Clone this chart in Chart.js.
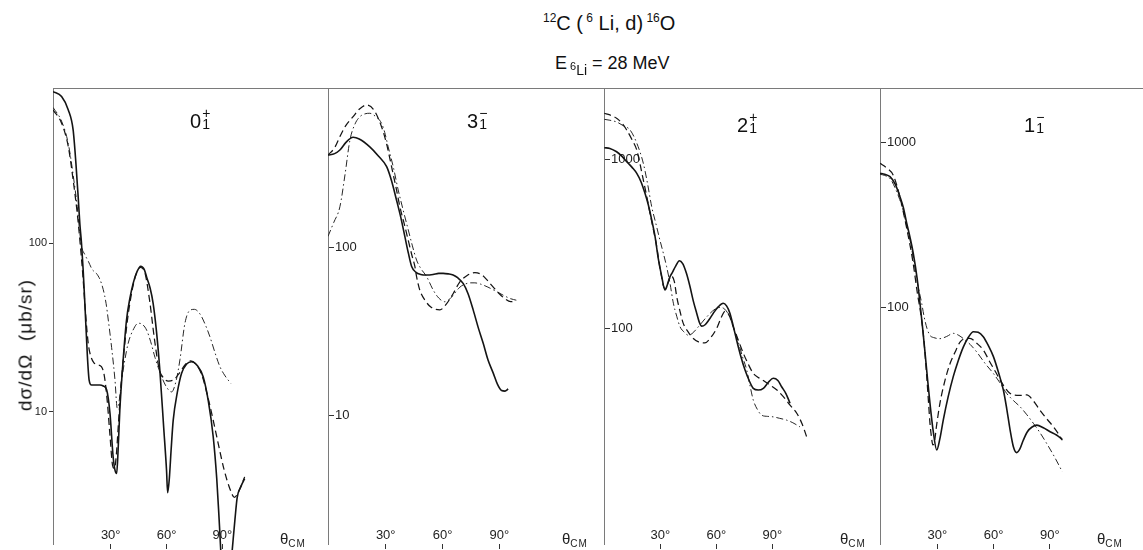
<!DOCTYPE html>
<html><head><meta charset="utf-8">
<script src="https://cdn.jsdelivr.net/npm/chart.js@4.4.0/dist/chart.umd.min.js"></script>
<style>
html,body{margin:0;padding:0;background:#fff;}
#wrap{position:relative;width:1143px;height:550px;overflow:hidden;font-family:"Liberation Sans",Arial,sans-serif;color:#111;}
canvas{position:absolute;top:80px;}
.t{position:absolute;white-space:nowrap;line-height:1;}
.lab{position:absolute;white-space:nowrap;font-size:20px;line-height:20px;}
.stk{display:inline-block;vertical-align:top;font-size:14px;line-height:11px;text-align:center;margin-left:1px;margin-top:-3px;}
.stk span{display:block;}
.th{position:absolute;top:530px;font-size:15px;white-space:nowrap;color:#222;}
.th sub{font-size:10px;vertical-align:-3px;letter-spacing:1px;}
</style></head>
<body><div id="wrap">
<canvas id="c1" width="328" height="470" style="left:0px;width:328px;height:470px"></canvas>
<canvas id="c2" width="278" height="470" style="left:326px;width:278px;height:470px"></canvas>
<canvas id="c3" width="278" height="470" style="left:602px;width:278px;height:470px"></canvas>
<canvas id="c4" width="265" height="470" style="left:878px;width:265px;height:470px"></canvas>

<div class="t" style="left:543px;top:12px;font-size:20px"><sup style="font-size:12px">12</sup>C (<sup style="font-size:12px"> 6</sup> Li, d)<sup style="font-size:12px"> 16</sup>O</div>
<div class="t" style="left:555px;top:54px;font-size:18px">E<span style="display:inline-block;position:relative;top:6px;font-size:14px;margin-left:3px"><span style="font-size:11px;position:relative;top:-5px">6</span>Li</span> = 28 MeV</div>

<div class="lab" style="left:190px;top:111px">0<span class="stk"><span>+</span><span>1</span></span></div>
<div class="lab" style="left:467px;top:111px">3<span class="stk"><span>&#8722;</span><span>1</span></span></div>
<div class="lab" style="left:737px;top:115px">2<span class="stk"><span>+</span><span>1</span></span></div>
<div class="lab" style="left:1024px;top:115px">1<span class="stk"><span>&#8722;</span><span>1</span></span></div>

<div class="t" style="left:25px;top:345px;font-size:19px;letter-spacing:1px;transform:translate(-50%,-50%) rotate(-90deg);">d&#963;/d&#937;&nbsp;&nbsp;(&#956;b/sr)</div>

<div class="th" style="left:280px">&#952;<sub>CM</sub></div>
<div class="th" style="left:562px">&#952;<sub>CM</sub></div>
<div class="th" style="left:840px">&#952;<sub>CM</sub></div>
<div class="th" style="left:1097px">&#952;<sub>CM</sub></div>
</div>
<script>
// ---------- tick values ----------
const xTickValues = [30, 60, 90];
const p1YTicks = [10, 100];
const p2YTicks = [10, 100];
const p3YTicks = [100, 1000];
const p4YTicks = [100, 1000];

// ---------- panel 1 : 0+1 ----------
const p1SolidTheta = [-1, 3.6, 7.2, 9.8, 11.3, 12.5, 13.4, 14.3, 15.2, 16.1, 17.4, 18.4, 19.7, 22, 24.2, 26, 27.8, 29.6, 31.3, 32.3, 33.2, 34, 34.9, 36.5, 38.5, 40.3, 42.1, 44.2, 46.1, 48, 49.5, 51.2, 52.8, 54.6, 56.4, 58.5, 60, 60.6, 61.5, 62.5, 63.6, 65.8, 68.1, 70.8, 73.5, 76.5, 79.7, 82.5, 85.1, 87, 88.3, 89.5, 91.5, 93.5, 95.3, 96.8, 98, 100, 102];
const p1SolidValue = [795, 743, 619, 471, 298, 189, 131, 100, 69, 44, 22, 15.4, 14.4, 14.4, 14.4, 14.2, 13.5, 9.8, 5.4, 4.5, 4.3, 6, 10.2, 19, 35, 47, 58, 68, 73, 70, 62, 54, 44, 30, 17.7, 8, 4.5, 3.3, 4.0, 6, 8.9, 13, 16.9, 19.2, 19.8, 18.8, 16.1, 11.5, 7.1, 4.0, 2.27, 1.3, 0.8, 0.9, 1.5, 2.3, 3.1, 3.6, 4.0];
const p1DashTheta = [-1, 3.6, 7.2, 9.8, 12, 13.4, 15, 16.5, 18, 19.5, 21, 23, 25, 26.5, 28, 29.5, 31, 32, 33, 34, 35.5, 37.5, 40, 43, 46, 48.5, 51, 53.5, 56, 58.5, 61, 64, 67, 70, 73, 76, 79, 82, 85, 88, 91, 94, 96.5, 99, 102];
const p1DashValue = [619, 516, 375, 238, 151, 105, 65, 38, 25, 21, 19.5, 19, 18.5, 16.5, 12, 7.5, 4.8, 4.6, 5.5, 8, 14, 25, 42, 62, 72, 66, 45, 27, 18, 15.8, 15.2, 15.5, 17, 19, 20, 19, 16.5, 12.5, 9, 6.3, 4.5, 3.5, 3.1, 3.4, 4.1];
const p1DotTheta = [-1, 3.6, 7.2, 9.8, 12, 13.4, 14.3, 16, 18, 20, 22.4, 24.2, 26, 27.5, 28.7, 30.5, 32.3, 33.5, 34.5, 35.9, 37.5, 39.4, 42, 44.8, 47, 49.3, 51.5, 53.8, 57.4, 60, 62.7, 65, 67.2, 69.9, 72.6, 75, 78, 80.5, 83.3, 86, 88.7, 91.5, 94.6];
const p1DotValue = [640, 530, 390, 255, 165, 115, 96, 86, 78, 70, 66, 61, 53, 44, 35, 24, 15.4, 10.5, 11.5, 15.4, 20, 25.5, 30.5, 33.5, 33, 30.5, 26, 21, 16.1, 14, 13.1, 15, 20.3, 33.5, 40, 40.5, 38, 33.5, 27.9, 22.5, 18.5, 16.3, 14.7];

// ---------- panel 2 : 3-1 ----------
const p2SolidTheta = [-0.5, 3, 5.8, 9, 12.8, 16, 21.6, 26, 30.5, 33, 35.7, 38, 40.1, 42, 43.7, 46, 48.5, 51.6, 55, 58, 60.4, 63, 65.6, 68, 70.9, 73.5, 76.2, 79, 81.5, 84, 86.8, 89, 91.2, 93, 94.7];
const p2SolidValue = [353, 360, 378, 420, 450, 440, 395, 350, 301, 250, 191, 150, 116, 92, 77, 71, 69, 68.5, 69, 70, 70, 69.5, 68.5, 66, 61, 53, 42.5, 33, 26.9, 21.5, 17.9, 15.4, 14.1, 14, 14.4];
const p2DashTheta = [-0.5, 3, 5.8, 9, 12.8, 16, 19.9, 23.5, 27.8, 30.5, 33.1, 35.5, 37.5, 40, 41.9, 43.8, 45.4, 46.3, 48, 51, 54, 58.6, 62, 65.6, 69, 73, 77.1, 80.5, 83.5, 86.8, 90, 93, 96, 98.2];
const p2DashValue = [353, 390, 454, 530, 597, 660, 700, 660, 520, 410, 301, 225, 174, 135, 110, 90, 77, 67, 55.7, 48, 44, 42.5, 46, 53, 62, 68, 70.7, 69, 64, 58, 53, 49.5, 47.5, 48];
const p2DotTheta = [-0.5, 2.5, 5.8, 8.5, 11.1, 13.8, 16.4, 19, 21.6, 24.5, 27.8, 29.5, 31.3, 34, 36.6, 39.3, 41.9, 44, 46.3, 48.5, 51.6, 55.1, 58, 61.2, 64, 66.5, 69.2, 72, 75, 77.1, 80, 84, 88, 92, 96, 99];
const p2DotValue = [116, 140, 174, 270, 433, 540, 597, 620, 625, 600, 545, 480, 395, 300, 219, 165, 127, 103, 84, 75, 67, 55.7, 50, 47.5, 49.5, 53.5, 58, 60.5, 61.5, 61.5, 60.5, 58, 55, 52, 49.5, 48.5];

// ---------- panel 3 : 2+1 ----------
const p3SolidTheta = [0, 3, 6.6, 9.5, 12, 15, 17.4, 19.7, 21.8, 23.6, 25.4, 27.2, 28.9, 30.7, 32.5, 33.7, 35, 36.5, 38.3, 40.2, 42, 44, 45.9, 47.7, 49.5, 51, 52.2, 54, 56, 58.4, 61, 63.7, 65.5, 67.3, 69, 70.9, 73, 75.4, 77.6, 79.8, 82.5, 85.2, 88, 90.5, 93, 95, 97.3, 99.5];
const p3SolidValue = [1181, 1170, 1118, 1050, 976, 900, 832, 740, 633, 540, 440, 350, 260, 205, 169, 180, 200, 215, 235, 252, 242, 212, 177, 145, 123, 108, 103, 105, 112, 123, 134, 141, 136, 123, 104, 85, 69, 56.5, 49, 44, 43, 44, 48, 50.5, 49, 45, 41, 35.9];
const p3DashTheta = [0, 3, 6.6, 9.5, 12, 15, 17.4, 19.2, 20.9, 22.7, 24.5, 26.3, 28.1, 29.5, 30.7, 31.6, 32.5, 34, 35.8, 37.5, 38.8, 40.5, 42.3, 45, 47.7, 50.5, 53.9, 57, 60.2, 62.5, 64.7, 66.8, 69.1, 71.8, 74.5, 77.2, 79.8, 82.5, 85.2, 88.8, 92.5, 95.9, 99.5, 103.1, 106, 108.4];
const p3DashValue = [1892, 1850, 1767, 1650, 1506, 1310, 1145, 940, 760, 610, 482, 385, 305, 240, 202, 180, 172, 185, 205, 190, 154, 127, 107, 95, 87, 83, 82, 88, 100, 115, 126, 120, 102, 85, 71, 61, 54, 51, 49, 46, 43, 39.3, 35, 31.3, 27, 22.7];
const p3DotTheta = [0, 3, 6.6, 10, 13.8, 17.5, 20.9, 23.2, 25.4, 27.6, 29.8, 31.6, 33.4, 35.2, 37, 38.8, 40.6, 42.8, 45, 47, 49, 51.3, 54.9, 59.3, 62, 64.5, 67, 69.1, 71.5, 74, 76.3, 78, 79.8, 82, 84.3, 87.5, 90.5, 94, 97.7, 101, 104.8];
const p3DotValue = [1742, 1720, 1680, 1600, 1506, 1250, 955, 720, 527, 420, 334, 280, 232, 185, 141, 118, 102, 95, 91, 93, 98, 105, 117, 130, 133, 130, 118, 102, 85, 68, 56.5, 46, 37.5, 33, 30.5, 30, 29.8, 29.2, 28.5, 27.5, 26];

// ---------- panel 4 : 1-1 ----------
const p4SolidTheta = [-0.5, 2, 4.8, 7.5, 10.1, 12, 13.7, 15.5, 17.2, 19.3, 20.8, 22.2, 23.5, 24.8, 26.1, 27.8, 29.7, 31.3, 33.2, 35.8, 38.5, 41.2, 43.9, 46.5, 49.2, 51.8, 54.5, 57.2, 59.9, 62.5, 65.2, 67, 68.8, 70.5, 72.3, 74, 75.8, 78, 80.5, 83, 86.5, 90.1, 93.5, 96.6];
const p4SolidValue = [650, 640, 620, 560, 469, 400, 324, 265, 213, 149, 106, 75, 53, 37, 26.4, 18, 13.8, 16, 21, 29, 38.3, 48, 58, 66, 71.6, 71, 66.8, 59, 50.6, 41, 31.8, 24.5, 18.2, 14.5, 13.3, 14, 15.8, 17.8, 19, 19.5, 18.8, 17.8, 17, 16];
const p4DashTheta = [-0.5, 3, 6.6, 10, 13.5, 17, 19.5, 21, 22.5, 23.5, 24.4, 25.3, 26.1, 26.9, 27.6, 28.5, 29.5, 31.4, 34, 36.8, 39.5, 42.1, 44.7, 47.4, 51, 54.5, 58, 61, 63.4, 66, 68.5, 70.5, 74, 77.7, 81, 84.7, 88, 91.8, 94.5, 96.6];
const p4DashValue = [746, 700, 630, 470, 310, 190, 120, 95, 70, 52, 38, 27, 20, 16.5, 14.8, 15.5, 19, 26.4, 36, 46, 54, 62, 65, 65.3, 61, 55.5, 47, 41, 36.6, 33, 30.5, 29.7, 29.5, 29.7, 27.5, 24, 21.5, 19.1, 17.3, 15.8];
const p4DotTheta = [-0.5, 2, 5, 7.5, 10, 12, 13.7, 15.5, 17.2, 19.5, 21.7, 23, 24.5, 26.1, 28, 31.4, 35, 38.5, 41.5, 43.9, 47.5, 51, 55.5, 59.9, 63.5, 67, 70.5, 74.1, 77.5, 81.2, 84.8, 88.3, 92.5, 96.6];
const p4DotValue = [640, 630, 600, 530, 450, 380, 310, 255, 200, 140, 106, 88, 75, 68, 66, 65, 67, 70, 68, 65, 60, 54, 46, 40, 35, 30.3, 27.5, 25.2, 22.7, 20, 17.5, 15.1, 12.5, 10.2];

function pts(th, v) { return th.map((t, i) => ({x: t, y: v[i]})); }

const INK = '#141414';
const FRAME = '#7a7a7a';
const FAM = '"Liberation Sans", Arial, sans-serif';

function panel(id, o) {
  const ds = [
    {data: pts(o.solid[0], o.solid[1]), borderColor: INK, borderWidth: 1.6, borderDash: []},
    {data: pts(o.dash[0], o.dash[1]), borderColor: INK, borderWidth: 1.25, borderDash: [7, 4]},
    {data: pts(o.dot[0], o.dot[1]), borderColor: '#262626', borderWidth: 1.0, borderDash: [7, 3, 1.5, 3]}
  ];
  ds.forEach(d => { d.clip = {left: 0, top: 0, right: 0, bottom: 10}; d.pointRadius = 0; d.fill = false; });
  new Chart(document.getElementById(id), {
    type: 'line',
    data: {datasets: ds},
    options: {
      responsive: false, animation: false, maintainAspectRatio: false,
      layout: {padding: {top: 8, left: 0, right: 0, bottom: 0}},
      plugins: {legend: {display: false}, tooltip: {enabled: false}, title: {display: false}},
      elements: {line: {cubicInterpolationMode: 'monotone'}, point: {radius: 0}},
      scales: {
        x: {
          type: 'linear', position: 'bottom', min: o.xMin, max: o.xMax,
          border: {display: false},
          grid: {display: true, drawOnChartArea: false, drawTicks: true, tickLength: 5, color: '#333', lineWidth: 1},
          ticks: {mirror: true, padding: 1, maxRotation: 0, autoSkip: false, font: {family: FAM, size: 13}, color: '#222', callback: v => v + '\u00b0'},
          afterBuildTicks: s => { s.ticks = xTickValues.map(v => ({value: v})); },
          afterFit: s => { s.height = 6; s.paddingLeft = 0; s.paddingRight = 0; }
        },
        xt: {
          type: 'linear', position: 'top', min: 0, max: 1,
          border: {display: true, color: FRAME, width: 1},
          grid: {display: false, drawTicks: false},
          ticks: {display: false},
          afterFit: s => { s.height = 0; }
        },
        y: {
          type: 'logarithmic', position: 'left', min: o.yMin, max: o.yMax,
          border: {display: true, color: FRAME, width: 1},
          grid: {display: true, drawOnChartArea: false, drawTicks: true, tickLength: o.inner ? -6 : 4, color: '#333', lineWidth: 1},
          ticks: {mirror: !!o.inner, padding: o.inner ? 7 : 2, autoSkip: false, font: {family: FAM, size: o.inner ? 13 : 11}, color: '#222', callback: v => String(v)},
          afterBuildTicks: s => { s.ticks = o.yTicks.map(v => ({value: v})); },
          afterFit: s => { s.width = o.axisWidth; s.paddingTop = 0; s.paddingBottom = 0; }
        }
      }
    }
  });
}

panel('c1', {solid: [p1SolidTheta, p1SolidValue], dash: [p1DashTheta, p1DashValue], dot: [p1DotTheta, p1DotValue],
  xMin: -1.02, xMax: 146.8, yMin: 1.638, yMax: 835, yTicks: p1YTicks, inner: false, axisWidth: 53});
panel('c2', {solid: [p2SolidTheta, p2SolidValue], dash: [p2DashTheta, p2DashValue], dot: [p2DotTheta, p2DotValue],
  xMin: -0.48, xMax: 145.3, yMin: 1.73, yMax: 883, yTicks: p2YTicks, inner: true, axisWidth: 2});
panel('c3', {solid: [p3SolidTheta, p3SolidValue], dash: [p3DashTheta, p3DashValue], dot: [p3DotTheta, p3DotValue],
  xMin: -0.16, xMax: 147.7, yMin: 5.24, yMax: 2673, yTicks: p3YTicks, inner: true, axisWidth: 2});
panel('c4', {solid: [p4SolidTheta, p4SolidValue], dash: [p4DashTheta, p4DashValue], dot: [p4DotTheta, p4DotValue],
  xMin: -0.53, xMax: 139.6, yMin: 3.73, yMax: 2128, yTicks: p4YTicks, inner: true, axisWidth: 2});
</script>
</body></html>
